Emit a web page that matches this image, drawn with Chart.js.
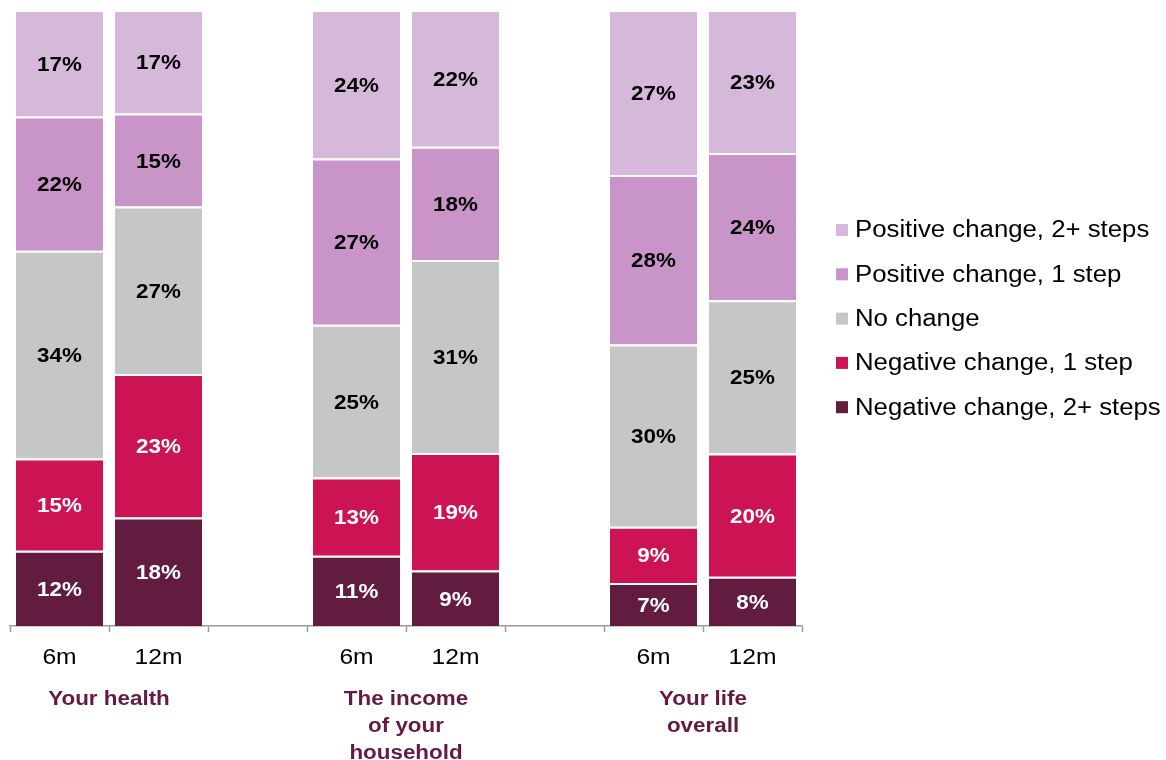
<!DOCTYPE html>
<html>
<head>
<meta charset="utf-8">
<script src="https://cdn.jsdelivr.net/npm/chart.js@4/dist/chart.umd.min.js"></script>
<style>
  html, body { margin: 0; padding: 0; background: #fff; }
  #wrap { width: 1166px; height: 760px; position: relative; }
</style>
</head>
<body>
<div id="wrap"><canvas id="changeChart"></canvas></div>
<script>
// --- Data (share of respondents, %) ---
// slots: 6m, 12m, (gap), 6m, 12m, (gap), 6m, 12m
const tickLabels = ['6m', '12m', '', '6m', '12m', '', '6m', '12m'];
const groupLabels = [['Your health'], ['The income', 'of your', 'household'], ['Your life', 'overall']];

const seriesNames = [
    'Negative change, 2+ steps',
    'Negative change, 1 step',
    'No change',
    'Positive change, 1 step',
    'Positive change, 2+ steps'
];
const negative2 = [12.2, 17.6, null, 11.4,  9.0, null,  7.0,  8.0];
const negative1 = [15.0, 23.3, null, 12.7, 19.1, null,  9.1, 20.0];
const noChange  = [33.7, 27.2, null, 24.8, 31.3, null, 29.6, 24.9];
const positive1 = [21.8, 15.1, null, 27.0, 18.4, null, 27.5, 23.9];
const positive2 = [17.3, 16.8, null, 24.1, 22.2, null, 26.8, 23.2];

const seriesColors = ['#611c40', '#cc1455', '#c6c6c6', '#c994c7', '#d6b8da'];
const labelColors = ['#ffffff', '#ffffff', '#000000', '#000000', '#000000'];

const FONT = "'Liberation Sans', Arial, sans-serif";
const STRETCH = 1.12; // text in the original is a bit wider than plain Arial

function wideText(c, text, x, y) {
    c.save();
    c.translate(x, y);
    c.scale(STRETCH, 1);
    c.fillText(text, 0, 0);
    c.restore();
}

// --- value labels inside segments ---
const segmentLabels = {
    id: 'segmentLabels',
    afterDatasetsDraw(chart) {
        const c = chart.ctx;
        c.save();
        c.font = 'bold 20px ' + FONT;
        c.textAlign = 'center';
        c.textBaseline = 'middle';
        chart.data.datasets.forEach((ds, i) => {
            const meta = chart.getDatasetMeta(i);
            meta.data.forEach((bar, j) => {
                const v = ds.data[j];
                if (v == null) return;
                c.fillStyle = labelColors[i];
                wideText(c, Math.round(v) + '%', bar.x, (bar.y + bar.base) / 2 + 2);
            });
        });
        c.restore();
    }
};

// --- tick labels, group captions under the axis + legend on the right ---
const extras = {
    id: 'extras',
    afterDraw(chart) {
        const c = chart.ctx;
        const x = chart.scales.x;
        c.save();
        c.textAlign = 'center';
        c.textBaseline = 'middle';

        c.font = '22px ' + FONT;
        c.fillStyle = '#000';
        tickLabels.forEach((t, i) => {
            if (t) wideText(c, t, x.getPixelForValue(i), 658);
        });

        c.font = 'bold 20px ' + FONT;
        c.fillStyle = '#631b44';
        groupLabels.forEach((lines, g) => {
            const cx = (x.getPixelForValue(g * 3) + x.getPixelForValue(g * 3 + 1)) / 2;
            lines.forEach((t, k) => wideText(c, t, cx, 699 + k * 27));
        });

        // legend, top item = top of the stack
        c.font = '23px ' + FONT;
        c.textAlign = 'left';
        for (let k = 0; k < seriesNames.length; k++) {
            const i = seriesNames.length - 1 - k;
            const y = 230 + k * 44.3;
            c.fillStyle = seriesColors[i];
            c.fillRect(836, y - 6, 12, 12);
            c.fillStyle = '#000';
            wideText(c, seriesNames[i], 855, y + 1);
        }
        c.restore();
    }
};

const allSeries = [negative2, negative1, noChange, positive1, positive2];

const ctx = document.getElementById('changeChart').getContext('2d');
new Chart(ctx, {
    type: 'bar',
    data: {
        labels: tickLabels,
        datasets: allSeries.map((d, i) => ({
            label: seriesNames[i],
            data: d,
            backgroundColor: seriesColors[i],
            borderColor: '#ffffff',
            borderWidth: { top: 2, bottom: 0, left: 0, right: 0 },
            borderSkipped: false,
            categoryPercentage: 1,
            barPercentage: 0.88
        }))
    },
    options: {
        responsive: true,
        maintainAspectRatio: false,
        animation: false,
        layout: { padding: { left: 10, right: 364, top: 10, bottom: 128 } },
        plugins: {
            legend: { display: false },
            tooltip: { enabled: false }
        },
        scales: {
            x: {
                stacked: true,
                grid: { display: true, drawOnChartArea: false, drawTicks: true, tickLength: 6, tickWidth: 1.5, tickColor: '#9a9a9a', offset: true },
                border: { display: true, color: '#9a9a9a', width: 1.5 },
                ticks: { display: false }
            },
            y: {
                stacked: true,
                display: false,
                min: 0,
                max: 100
            }
        }
    },
    plugins: [segmentLabels, extras]
});
</script>
</body>
</html>
